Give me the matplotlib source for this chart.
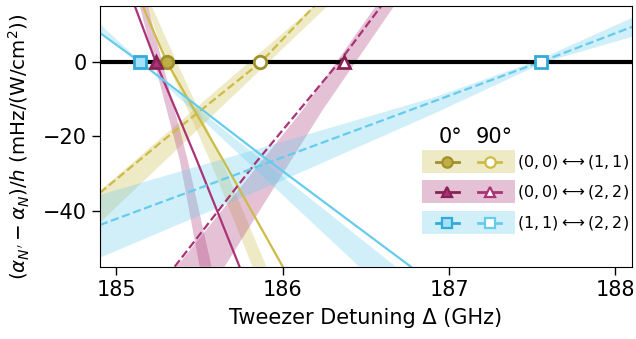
import matplotlib.pyplot as plt
from matplotlib.patches import Rectangle
import numpy as np

# transitions shown in the legend
transitions = [r"$(0,0)\longleftrightarrow(1,1)$",
               r"$(0,0)\longleftrightarrow(2,2)$",
               r"$(1,1)\longleftrightarrow(2,2)$"]

# measured zero crossings (GHz) for 0 deg and 90 deg
zero_0deg = [185.302, 185.236, 185.14]
zero_90deg = [185.866, 186.37, 187.55]

# curves: detuning (GHz), polarizability diff (mHz/(W/cm^2))
# (0,0)<->(1,1)
det_a0 = [185.158, 185.302, 185.65, 186.0]
pol_a0 = [15, 0, -27.1, -55]
det_a90 = [184.9, 185.27, 185.87, 186.19]
pol_a90 = [-35.2, -21.5, 0, 15]
# (0,0)<->(2,2)
det_b0 = [185.11, 185.236, 185.482, 185.74]
pol_b0 = [15, 0, -26.3, -55]
det_b90 = [185.35, 185.842, 186.34, 186.592]
pol_b90 = [-55, -26.8, 0, 15]
# (1,1)<->(2,2)
det_c0 = [184.9, 185.14, 185.875, 186.77]
pol_c0 = [7.8, 0, -25.2, -55]
det_c90 = [184.9, 187.55, 188.1]
pol_c90 = [-43.8, 0, 9.4]

# theory bands: two edges each (detuning, value)
band_a0 = ([185.182, 185.302, 185.56, 185.818], [15, 0, -26.3, -55],
           [185.212, 185.362, 185.632, 185.902], [15, 0, -26.3, -55])
band_a90 = ([184.9, 186.19], [-34.6, 15],
            [184.9, 186.27], [-43.2, 15])
band_b0 = ([185.14, 185.38, 185.5], [15, -26.3, -55],
           [185.188, 185.428, 185.572], [15, -26.3, -55])
band_b90 = ([185.362, 186.12, 186.56], [-55, -12.9, 15],
            [185.65, 186.24, 186.67], [-55, -12.9, 15])
band_c0 = ([184.9, 186.46], [10.2, -55],
           [184.9, 186.68], [8.3, -55])
band_c90 = ([184.9, 185.98, 186.92, 187.51, 188.1], [-35.7, -21.7, -9.4, 0, 11.8],
            [184.9, 185.98, 186.92, 187.58, 188.1], [-52.6, -32.2, -13.7, 0, 6.7])

colors = ["#ccbb44", "#aa3377", "#66ccee"]
dark = ["#a0902c", "#882255", "#33aadd"]
fills = ["#bfae45", "#aa3377", "#a6e2f6"]
markers = ["o", "^", "s"]

curves0 = [(det_a0, pol_a0), (det_b0, pol_b0), (det_c0, pol_c0)]
curves90 = [(det_a90, pol_a90), (det_b90, pol_b90), (det_c90, pol_c90)]
bands = [[band_a0, band_a90], [band_b0, band_b90], [band_c0, band_c90]]

fig = plt.figure(figsize=(6.36, 3.39), dpi=100)
ax = fig.add_axes([0.157, 0.2133, 0.8367, 0.769])

for i in range(3):
    for xa, ya, xb, yb in bands[i]:
        ax.fill(np.r_[xa, xb[::-1]], np.r_[ya, yb[::-1]],
                color=colors[i], alpha=0.3, lw=0, zorder=1)
    ax.plot(*curves0[i], color=colors[i], lw=1.6, zorder=2)
    ax.plot(*curves90[i], color=colors[i], lw=1.6, ls="--", zorder=2)

ax.axhline(0, color="k", lw=3, zorder=3)

for i in range(3):
    ax.plot(zero_0deg[i], 0, marker=markers[i], ms=9, mfc=fills[i],
            mec=dark[i], mew=2, zorder=5, clip_on=False)
    ax.plot(zero_90deg[i], 0, marker=markers[i], ms=9, mfc="white",
            mec=dark[i], mew=2, zorder=5, clip_on=False)

# hand-made legend
tr = ax.transAxes
row_y = [0.403, 0.288, 0.169]
x0, x90, hw = 0.653, 0.733, 0.0216
for i in range(3):
    ax.add_patch(Rectangle((0.605, row_y[i] - 0.0435), 0.175, 0.087,
                           transform=tr, color=colors[i], alpha=0.3, lw=0, zorder=6))
    ax.plot([x0 - hw, x0 + hw], [row_y[i]] * 2, transform=tr, color=dark[i],
            lw=2, zorder=7)
    ax.plot(x0, row_y[i], transform=tr, marker=markers[i], ms=7.5, mfc=fills[i],
            mec=dark[i], mew=1.6, zorder=8)
    ax.plot([x90 - hw, x90 + hw], [row_y[i]] * 2, transform=tr, color=colors[i],
            lw=2, zorder=7)
    ax.plot(x90, row_y[i], transform=tr, marker=markers[i], ms=7.5, mfc="white",
            mec=colors[i], mew=1.6, zorder=8)
    ax.text(0.784, row_y[i], transitions[i], transform=tr, fontsize=11.5,
            va="center", ha="left", zorder=8)
ax.text(0.658, 0.499, "0°", transform=tr, fontsize=15, ha="center", va="center")
ax.text(0.741, 0.499, "90°", transform=tr, fontsize=15, ha="center", va="center")

ax.set_xlim(184.9, 188.1)
ax.set_ylim(-55, 15)
ax.set_xticks([185, 186, 187, 188])
ax.set_yticks([0, -20, -40])
ax.tick_params(labelsize=15, length=6, width=1)
ax.set_xlabel("Tweezer Detuning Δ (GHz)", fontsize=15, labelpad=6)
ax.set_ylabel(r"$(\alpha_{N'} - \alpha_N)/h$ (mHz/(W/cm$^2$))", fontsize=14.3)
ax.yaxis.set_label_coords(-0.128, 0.46)

fig.savefig("out.png", dpi=100)
